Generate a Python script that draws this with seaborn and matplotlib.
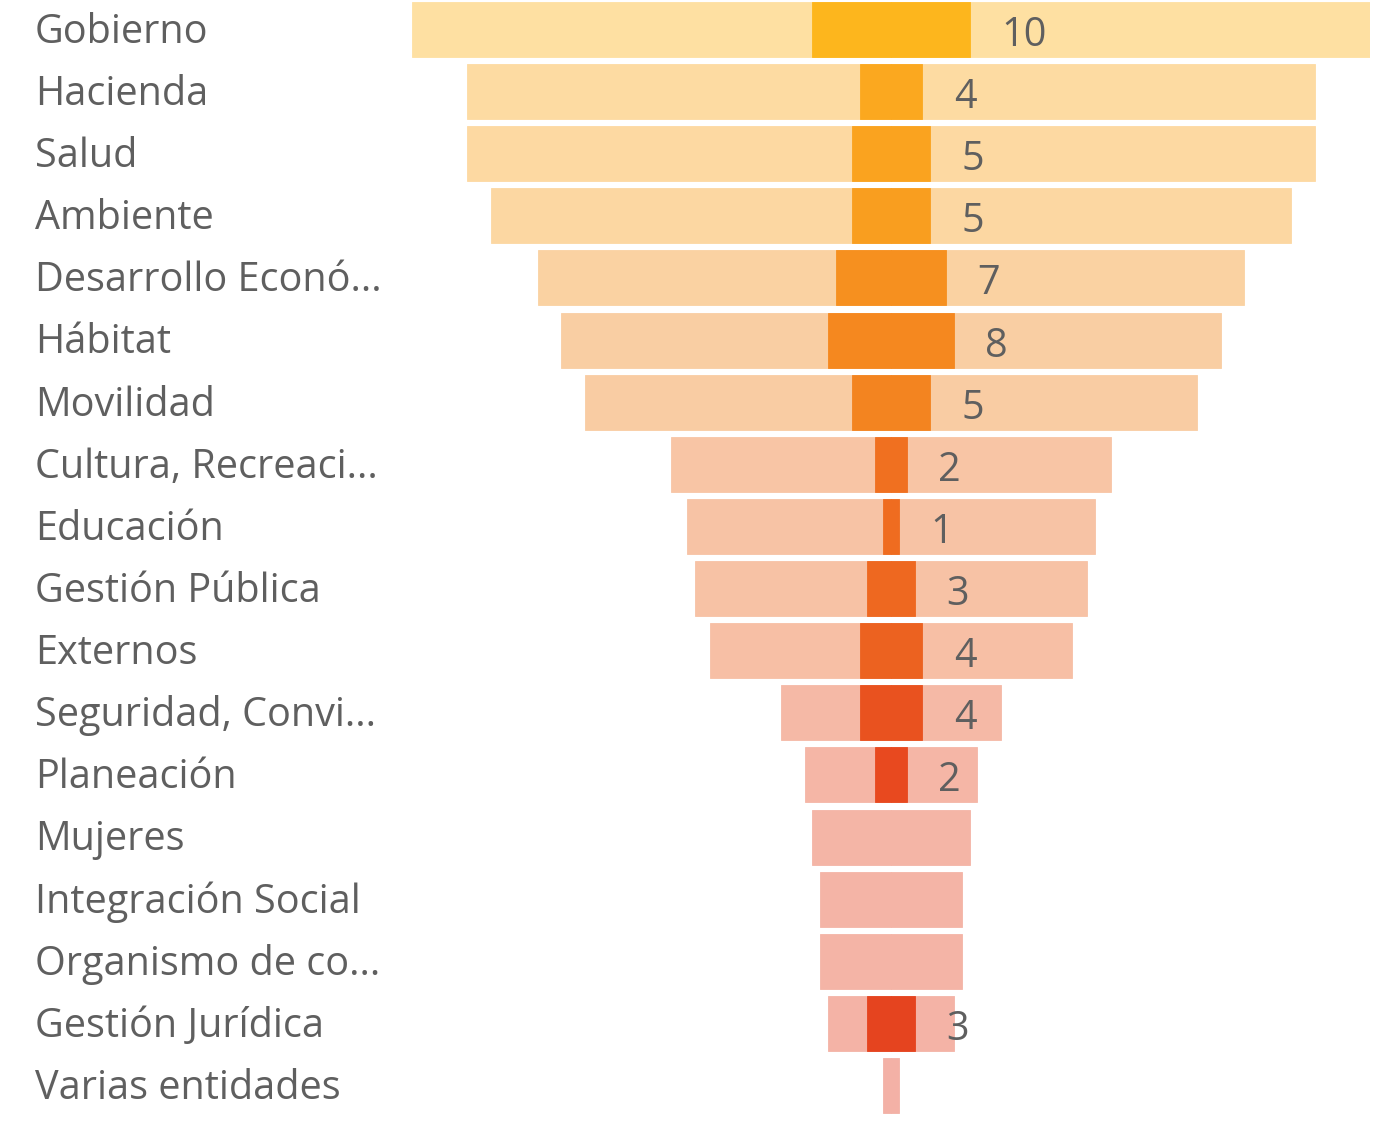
import numpy as np
import pandas as pd
import matplotlib
matplotlib.use("Agg")
import matplotlib.pyplot as plt
import matplotlib.transforms as mtransforms
import seaborn as sns

categorias = ["Gobierno", "Hacienda", "Salud", "Ambiente", "Desarrollo Econó...",
              "Hábitat", "Movilidad", "Cultura, Recreaci...", "Educación",
              "Gestión Pública", "Externos", "Seguridad, Convi...", "Planeación",
              "Mujeres", "Integración Social", "Organismo de co...",
              "Gestión Jurídica", "Varias entidades"]
total = [61, 54, 54, 51, 45, 42, 39, 28, 26, 25, 23, 14, 11, 10, 9, 9, 8, 1]
valor = [10, 4, 5, 5, 7, 8, 5, 2, 1, 3, 4, 4, 2, 0, 0, 0, 3, 0]

color_fondo = ["#FEE0A2", "#FDDBA2", "#FDD9A2", "#FCD7A2", "#FAD2A2", "#F9CEA3",
               "#F9CCA3", "#F8C5A5", "#F7C3A5", "#F7C2A5", "#F7BFA5", "#F5B9A6",
               "#F5B6A6", "#F4B5A6", "#F4B4A6", "#F4B4A6", "#F4B3A6", "#F3B1A6"]
color_valor = ["#FDB61D", "#FBA81F", "#FAA31F", "#F99E1F", "#F6901F", "#F5881F",
               "#F38420", "#F07020", "#EF6C20", "#EE6820", "#EC6220", "#E9521F",
               "#E8491F", "#E8481F", "#E6461F", "#E6461F", "#E5441F", "#E5441F"]

df = pd.DataFrame({"categoria": categorias, "total": total, "valor": valor})

sns.set_style("white")
plt.rcParams["font.family"] = ["Open Sans", "DejaVu Sans"]

fig = plt.figure(figsize=(13.82, 11.21), dpi=100)
W, H = 1382, 1121
pitch = 62.12
top_px = 29.5 - pitch / 2
ax = fig.add_axes([412 / W, 1 - (top_px + 18 * pitch) / H, 958 / W, 18 * pitch / H])

pal_f = dict(zip(categorias, color_fondo))
pal_v = dict(zip(categorias, color_valor))
ancho = 0.885
# cada barra se dibuja en dos mitades (+/-) para quedar centrada
for signo in (1, -1):
    sns.barplot(data=df.assign(x=signo * df["total"] / 2), x="x", y="categoria",
                hue="categoria", palette=pal_f, legend=False, orient="h",
                width=ancho, linewidth=0.6, ax=ax, saturation=1)
for signo in (1, -1):
    sns.barplot(data=df.assign(x=signo * df["valor"] / 2), x="x", y="categoria",
                hue="categoria", palette=pal_v, legend=False, orient="h",
                width=ancho, linewidth=0.6, ax=ax, saturation=1)
for p in ax.patches:
    if p.get_width() == 0:
        p.set_visible(False)
    else:
        p.set_edgecolor(p.get_facecolor())

ax.set_xlim(-30.5, 30.5)
ax.set_ylim(17.5, -0.5)
ax.axis("off")

gris = "#5f5f5f"
trans = mtransforms.blended_transform_factory(fig.transFigure, ax.transData)
for i, cat in enumerate(categorias):
    fig.text(35 / W, i + 0.05, cat, transform=trans, ha="left", va="center",
             fontsize=28.5, color=gris)
    if valor[i] > 0:
        ax.text(valor[i] / 2 + 2.0, i + 0.1, str(valor[i]), ha="left", va="center",
                fontsize=28.5, color=gris)

fig.savefig("out.png", dpi=100, facecolor="white")
